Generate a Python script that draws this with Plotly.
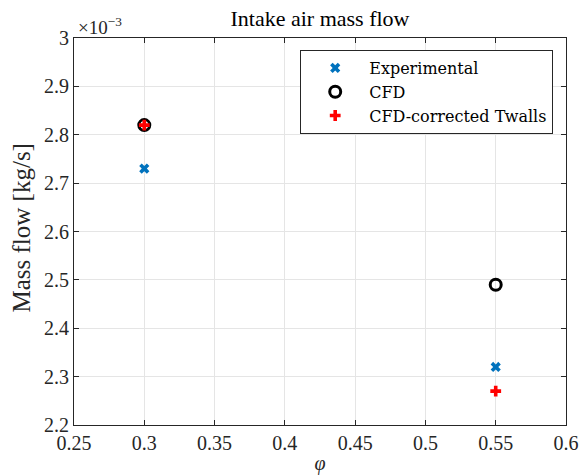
import plotly.graph_objects as go

phi = [0.3, 0.55]
experimental = [2.73e-3, 2.32e-3]
cfd = [2.82e-3, 2.49e-3]
cfd_corrected = [2.82e-3, 2.27e-3]

x_ticks = [0.25, 0.3, 0.35, 0.4, 0.45, 0.5, 0.55, 0.6]
x_tick_labels = ["0.25", "0.3", "0.35", "0.4", "0.45", "0.5", "0.55", "0.6"]
y_ticks = [2.2e-3, 2.3e-3, 2.4e-3, 2.5e-3, 2.6e-3, 2.7e-3, 2.8e-3, 2.9e-3, 3.0e-3]
y_tick_labels = ["2.2", "2.3", "2.4", "2.5", "2.6", "2.7", "2.8", "2.9", "3"]

FONT = "Liberation Serif, DejaVu Serif, serif"
LEG_FONT = "DejaVu Serif, serif"

fig = go.Figure()
fig.add_trace(go.Scatter(
    x=phi, y=experimental, mode="markers", name="Experimental",
    marker=dict(symbol="x", size=9, color="#0072BD", line=dict(width=0)),
))
fig.add_trace(go.Scatter(
    x=phi, y=cfd, mode="markers", name="CFD",
    marker=dict(symbol="circle-open", size=11, color="black", line=dict(width=3, color="black")),
))
fig.add_trace(go.Scatter(
    x=phi, y=cfd_corrected, mode="markers", name="CFD-corrected Twalls",
    marker=dict(symbol="cross", size=9, color="#FF0000", line=dict(width=0)),
))

axis_common = dict(
    showline=True, linecolor="#262626", linewidth=1, mirror="allticks",
    ticks="inside", ticklen=5, tickcolor="#262626",
    showgrid=True, gridcolor="#E5E5E5", gridwidth=1, zeroline=False,
    tickfont=dict(family=FONT, size=20, color="#262626"),
    automargin=False,
)

fig.update_layout(
    width=579, height=475,
    margin=dict(l=74, r=13, t=38, b=50),
    paper_bgcolor="white", plot_bgcolor="white",
    font=dict(family=FONT),
    title=dict(text="Intake air mass flow", x=0.5, xanchor="center", xref="paper",
               y=1, yref="paper", yanchor="bottom", pad=dict(b=12),
               font=dict(family=FONT, size=22, color="black")),
    xaxis=dict(range=[0.25, 0.6], tickvals=x_ticks, ticktext=x_tick_labels,
               title=dict(text="<i>φ</i>", font=dict(family=FONT, size=20, color="#262626"), standoff=2),
               **axis_common),
    yaxis=dict(range=[2.2e-3, 3.0e-3], tickvals=y_ticks, ticktext=y_tick_labels,
               **axis_common),
    legend=dict(x=0.974, xanchor="right", y=0.969, yanchor="top",
                bgcolor="white", bordercolor="#262626", borderwidth=1,
                font=dict(family=LEG_FONT, size=16, color="black"),
                itemwidth=58, tracegroupgap=0),
    showlegend=True,
)

fig.add_annotation(
    x=0, xref="paper", y=0.5, yref="paper", xanchor="center", yanchor="middle",
    text="Mass flow [kg/s]", textangle=-90, showarrow=False, xshift=-53, yshift=3,
    font=dict(family=FONT, size=25, color="#262626"),
)

fig.add_annotation(
    x=0, xref="paper", y=1, yref="paper", xanchor="left", yanchor="bottom",
    text="×10<sup>−3</sup>", showarrow=False, xshift=2, yshift=-2,
    font=dict(family=FONT, size=19, color="#262626"),
)

fig.write_html("out.html")
